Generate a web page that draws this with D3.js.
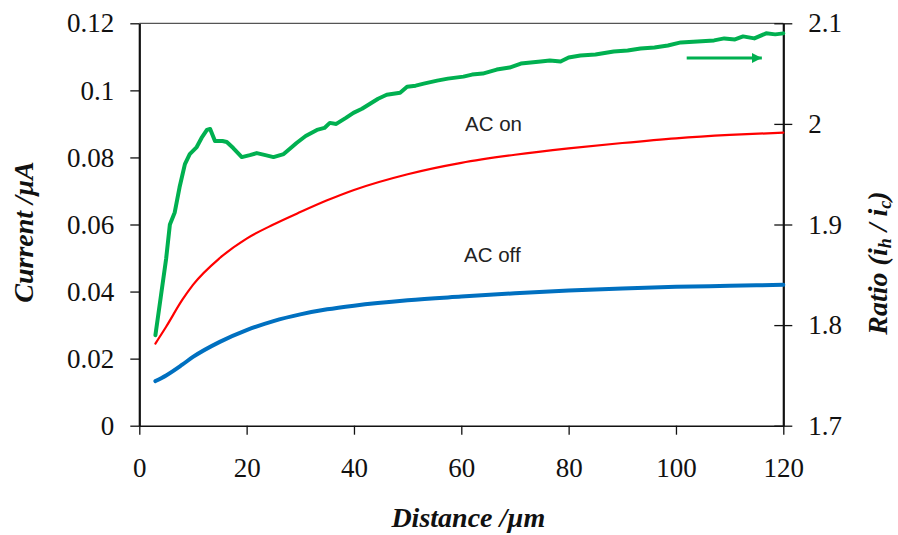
<!DOCTYPE html>
<html>
<head>
<meta charset="utf-8">
<script src="https://cdn.jsdelivr.net/npm/d3@7"></script>
<style>
  html, body { margin: 0; padding: 0; background: #fff; }
  svg { display: block; }
</style>
</head>
<body>
<svg id="chart" width="898" height="535"></svg>
<script>
// Distance (µm) and measured currents (µA)
const distance = [3, 5, 8, 10, 15, 20, 25, 30, 35, 40, 50, 60, 70, 80, 90, 100, 110, 120];
const currentOn  = [0.0245, 0.0295, 0.0375, 0.0420, 0.0500, 0.0558, 0.0600, 0.0637, 0.0672, 0.0703, 0.0750, 0.0784, 0.0808, 0.0827, 0.0843, 0.0857, 0.0867, 0.0874];
const currentOff = [0.0133, 0.0150, 0.0182, 0.0205, 0.0250, 0.0285, 0.0312, 0.0332, 0.0347, 0.0358, 0.0374, 0.0385, 0.0395, 0.0403, 0.0409, 0.0414, 0.0417, 0.0420];

// Ratio ih/ic against distance (right axis)
const ratioDistance = [3, 4, 5, 5.7, 6.6, 7.5, 8.5, 9.4, 10.7, 11.6, 12.6, 13.2, 14.1, 15.5, 16.3, 17.5, 19.1, 20.6, 21.9, 23.5, 25, 26.9, 28, 29.3, 31, 33.1, 34.5, 35.5, 36.7, 38.5, 39.9, 41.5, 43, 44.5, 46.1, 48.6, 49.9, 51.5, 53, 55.5, 57.5, 60.4, 62, 64, 66.6, 69, 71.1, 74.8, 76.5, 78.5, 80, 82.2, 85, 88.4, 91, 93.4, 96, 98.5, 100.9, 104, 107.1, 109, 111, 112.5, 114.6, 116.8, 118.5, 120];
const ratio = [1.790, 1.828, 1.866, 1.900, 1.912, 1.937, 1.960, 1.970, 1.977, 1.986, 1.994, 1.995, 1.983, 1.983, 1.982, 1.976, 1.967, 1.969, 1.971, 1.969, 1.967, 1.970, 1.975, 1.981, 1.988, 1.994, 1.996, 2.001, 2.000, 2.006, 2.011, 2.015, 2.020, 2.025, 2.029, 2.031, 2.037, 2.038, 2.040, 2.043, 2.045, 2.047, 2.049, 2.050, 2.054, 2.056, 2.060, 2.062, 2.063, 2.062, 2.066, 2.068, 2.069, 2.072, 2.073, 2.075, 2.076, 2.078, 2.081, 2.082, 2.083, 2.085, 2.084, 2.087, 2.085, 2.090, 2.089, 2.090];

// Tick values
const xTicks = [0, 20, 40, 60, 80, 100, 120];
const yTicks = [0, 0.02, 0.04, 0.06, 0.08, 0.1, 0.12];
const rTicks = [1.7, 1.8, 1.9, 2.0, 2.1];

const svg = d3.select("#chart");
const plotLeft = 139.3, plotRight = 783.3, plotTop = 23.3, plotBottom = 425.7;

const x = d3.scaleLinear().domain([0, 120]).range([plotLeft, plotRight]);
const y = d3.scaleLinear().domain([0, 0.12]).range([plotBottom, plotTop]);
const yr = d3.scaleLinear().domain([1.7, 2.1]).range([plotBottom, plotTop]);

const serif = "'Liberation Serif', 'Times New Roman', serif";
const sans = "'Liberation Sans', Arial, sans-serif";

// Top frame line
svg.append("line")
  .attr("x1", plotLeft).attr("x2", plotRight).attr("y1", plotTop).attr("y2", plotTop)
  .attr("stroke", "#555").attr("stroke-width", 1.2);

function styleTicks(g) {
  g.attr("font-family", null).attr("font-size", null);
  g.selectAll(".tick line").attr("stroke", "#111").attr("stroke-width", 1.3);
  g.selectAll(".tick text")
    .style("font-family", serif).style("font-size", "27px").attr("fill", "#111");
}

// Bottom axis
const gx = svg.append("g").attr("transform", `translate(0,${plotBottom})`)
  .call(d3.axisBottom(x).tickValues(xTicks).tickSize(9).tickSizeOuter(0).tickFormat(d3.format("d")));
styleTicks(gx);
gx.select(".domain").attr("stroke", "#111").attr("stroke-width", 1.5);
gx.selectAll(".tick text").attr("y", 51).attr("dy", 0);

// Left axis
const gy = svg.append("g").attr("transform", `translate(${plotLeft},0)`)
  .call(d3.axisLeft(y).tickValues(yTicks).tickSize(9).tickSizeOuter(0)
    .tickFormat(d => d === 0 ? "0" : d3.format("")(+d.toFixed(2))));
styleTicks(gy);
gy.select(".domain").attr("stroke", "#111").attr("stroke-width", 2.2);
gy.selectAll(".tick text").attr("x", -25).attr("dy", "0.32em");

// Right axis: ticks cross the axis line
const gr = svg.append("g").attr("transform", `translate(${plotRight},0)`)
  .call(d3.axisRight(yr).tickValues(rTicks).tickSize(9).tickSizeOuter(0)
    .tickFormat(d => d3.format("")(+d.toFixed(1))));
styleTicks(gr);
gr.select(".domain").attr("stroke", "#111").attr("stroke-width", 2.2);
gr.selectAll(".tick line").attr("x1", -9);
gr.selectAll(".tick text").attr("x", 25).attr("dy", "0.32em");

// Curves
const lineL = (ys) => d3.line().x((d, i) => x(distance[i])).y(d => y(d)).curve(d3.curveMonotoneX)(ys);

svg.append("path").attr("d", lineL(currentOff))
  .attr("fill", "none").attr("stroke", "#0070C0").attr("stroke-width", 4).attr("stroke-linecap", "round");
svg.append("path").attr("d", lineL(currentOn))
  .attr("fill", "none").attr("stroke", "#FF0000").attr("stroke-width", 2.2).attr("stroke-linecap", "round");

const lineR = d3.line().x((d, i) => x(ratioDistance[i])).y(d => yr(d)).curve(d3.curveLinear);
svg.append("path").attr("d", lineR(ratio))
  .attr("fill", "none").attr("stroke", "#00B050").attr("stroke-width", 4)
  .attr("stroke-linejoin", "round").attr("stroke-linecap", "round");

// Arrow pointing to the right axis
svg.append("defs").append("marker")
  .attr("id", "arrowhead").attr("viewBox", "0 0 10 10")
  .attr("refX", 10).attr("refY", 5)
  .attr("markerWidth", 3.4).attr("markerHeight", 3.4)
  .attr("markerUnits", "strokeWidth").attr("orient", "auto")
  .append("path").attr("d", "M0,0 L10,5 L0,10 Z").attr("fill", "#00B050");
svg.append("line")
  .attr("x1", x(102)).attr("x2", x(116)).attr("y1", 58).attr("y2", 58)
  .attr("stroke", "#00B050").attr("stroke-width", 3)
  .attr("marker-end", "url(#arrowhead)");

// Series labels
svg.append("text").attr("x", 465).attr("y", 131)
  .style("font-family", sans).style("font-size", "20.5px").attr("fill", "#222").text("AC on");
svg.append("text").attr("x", 464).attr("y", 262)
  .style("font-family", sans).style("font-size", "20.5px").attr("fill", "#222").text("AC off");

// Axis titles
const titleStyle = (t) => t.style("font-family", serif).style("font-size", "28px")
  .style("font-weight", "bold").style("font-style", "italic").attr("fill", "#111");

svg.append("text")
  .attr("x", (plotLeft + plotRight) / 2 + 7).attr("y", 527)
  .attr("text-anchor", "middle")
  .call(titleStyle).text("Distance /µm");

svg.append("text")
  .attr("transform", "translate(33,232) rotate(-90)")
  .attr("text-anchor", "middle")
  .call(titleStyle).text("Current /µA");

const rt = svg.append("text")
  .attr("transform", "translate(887,263) rotate(-90)")
  .attr("text-anchor", "middle")
  .call(titleStyle);
rt.append("tspan").text("Ratio (i");
rt.append("tspan").style("font-size", "18px").attr("dy", 4).text("h");
rt.append("tspan").attr("dy", -4).text(" / i");
rt.append("tspan").style("font-size", "18px").attr("dy", 4).text("c");
rt.append("tspan").attr("dy", -4).text(")");
</script>
</body>
</html>
